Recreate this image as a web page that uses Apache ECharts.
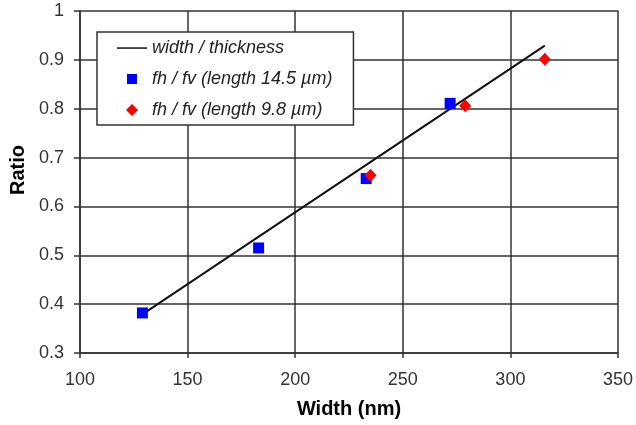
<!DOCTYPE html>
<html><head><meta charset="utf-8">
<script src="https://cdn.jsdelivr.net/npm/echarts@6/dist/echarts.min.js"></script>
<style>html,body{margin:0;padding:0;background:#fff}#c{width:636px;height:425px}</style>
</head><body><div id="c"></div>
<script>
const xTicks = [100, 150, 200, 250, 300, 350];
const yTicks = [0.3, 0.4, 0.5, 0.6, 0.7, 0.8, 0.9, 1];
const lineX = [130, 316];
const lineY = [0.382, 0.929];
const blueX = [129, 183, 233, 272];
const blueY = [0.382, 0.515, 0.657, 0.811];
const redX = [235, 279, 316];
const redY = [0.664, 0.806, 0.901];
const names = ['width / thickness', 'fh / fv (length 14.5 \u00b5m)', 'fh / fv (length 9.8 \u00b5m)'];

const zip = (a, b) => a.map((v, i) => [v, b[i]]);
const FONT = 'Liberation Sans';
const chart = echarts.init(document.getElementById('c'), null, {renderer: 'canvas'});
chart.setOption({
  animation: false,
  textStyle: {fontFamily: FONT},
  grid: {left: 80, right: 16, top: 11, bottom: 72, containLabel: false},
  xAxis: {
    type: 'value', min: xTicks[0], max: xTicks[xTicks.length - 1], interval: 50,
    name: 'Width (nm)', nameLocation: 'middle', nameGap: 46,
    nameTextStyle: {fontFamily: FONT, fontWeight: 'bold', fontSize: 20, color: '#000'},
    axisLine: {show: true, lineStyle: {color: '#333', width: 1.5}},
    axisTick: {show: true, length: 5, lineStyle: {color: '#333', width: 1.5}},
    axisLabel: {fontFamily: FONT, fontSize: 18, color: '#333', margin: 18},
    splitLine: {show: true, lineStyle: {color: '#333', width: 1.5}}
  },
  yAxis: {
    type: 'value', min: yTicks[0], max: yTicks[yTicks.length - 1], interval: 0.1,
    name: 'Ratio', nameLocation: 'middle', nameGap: 52,
    nameTextStyle: {fontFamily: FONT, fontWeight: 'bold', fontSize: 20, color: '#000', padding: [0, 0, 0, 24]},
    axisLine: {show: true, lineStyle: {color: '#333', width: 1.5}},
    axisTick: {show: true, length: 6, lineStyle: {color: '#333', width: 1.5}},
    axisLabel: {fontFamily: FONT, fontSize: 18, color: '#333', margin: 16,
      formatter: v => String(Math.round(v * 10) / 10)},
    splitLine: {show: true, lineStyle: {color: '#333', width: 1.5}}
  },
  legend: {
    show: true, orient: 'vertical', left: 97, top: 32,
    backgroundColor: '#fff',
    borderColor: '#333', borderWidth: 1.5,
    padding: [7, 21, 6, 20], itemGap: 13,
    itemWidth: 30, itemHeight: 12,
    textStyle: {fontFamily: FONT, fontStyle: 'italic', fontSize: 18, color: '#222', width: 194},
    data: [
      {name: names[0], icon: 'path://M0,0 M30,12 M0,5.3 L30,5.3 L30,6.8 L0,6.8 Z', itemStyle: {color: '#111'}},
      {name: names[1], icon: 'path://M0,0 M30,12 M10,1 L20,1 L20,11 L10,11 Z', itemStyle: {color: '#0000ff'}},
      {name: names[2], icon: 'path://M0,0 M30,12 M15,0 L21,6 L15,12 L9,6 Z', itemStyle: {color: '#ff0000'}}
    ]
  },
  series: [
    {name: names[0], type: 'line', data: zip(lineX, lineY), symbol: 'none',
      lineStyle: {color: '#111', width: 2}, itemStyle: {color: '#111'}, z: 3},
    {name: names[1], type: 'scatter', data: zip(blueX, blueY), symbol: 'rect', symbolSize: 11,
      itemStyle: {color: '#0000ff', opacity: 1}, z: 4},
    {name: names[2], type: 'scatter', data: zip(redX, redY), symbol: 'diamond', symbolSize: [12, 13],
      itemStyle: {color: '#ff0000', opacity: 1}, z: 5}
  ]
});
</script></body></html>
